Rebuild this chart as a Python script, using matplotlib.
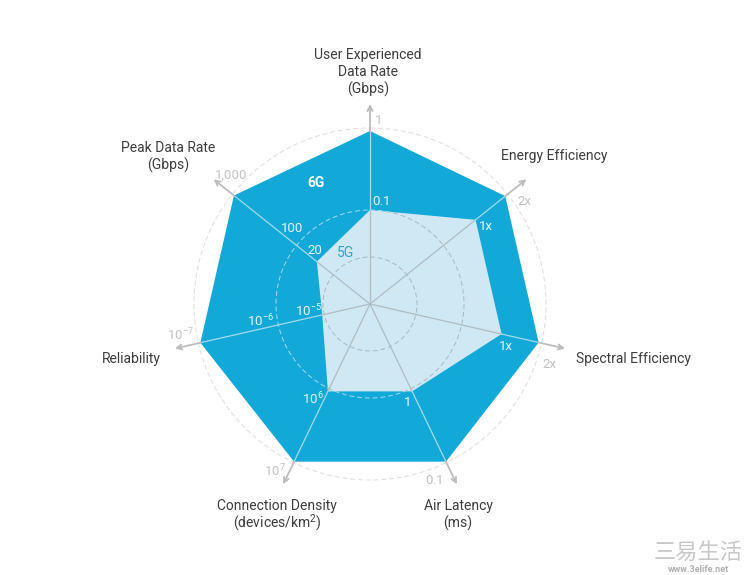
import numpy as np
import matplotlib
matplotlib.use("Agg")
import matplotlib.pyplot as plt

plt.rcParams['font.family'] = ['Roboto', 'Noto Sans CJK SC', 'DejaVu Sans']
plt.rcParams['mathtext.fontset'] = 'custom'
plt.rcParams['mathtext.rm'] = 'Roboto'
plt.rcParams['mathtext.default'] = 'rm'

W, H = 750, 575
cx, cy = 370, 304
rmax = 215

# radii (pixels from centre), clockwise from the top
axes_names = ["User Experienced", "Energy Efficiency", "Spectral Efficiency", "Air Latency",
              "Connection Density", "Reliability", "Peak Data Rate"]
r_6g = np.array([173, 173, 173, 175, 175, 174, 174])
r_5g = np.array([94, 135, 135, 97, 97, 49, 68])
arrow_r = 200

blue = "#12a8d8"
pale = "#cfe8f3"
grey = "#bcbcbc"
label_grey = "#c2c2c2"
dark = "#3c3c3c"
white = "#e6f5fb"
dash = (0, (5, 3))

fig = plt.figure(figsize=(W / 100, H / 100), dpi=100)
ax = fig.add_axes([(cx - rmax) / W, (H - cy - rmax) / H, 2 * rmax / W, 2 * rmax / H], projection="polar")
ax.set_theta_zero_location("N")
ax.set_theta_direction(-1)
ax.set_ylim(0, rmax)
ax.axis("off")

theta = np.arange(7) * 2 * np.pi / 7
circ = np.linspace(0, 2 * np.pi, 361)


def closed(a):
    return np.append(a, a[0])


# outer dashed ring sits under the 6G shape
ax.plot(circ, np.full(361, 176), color="#dedede", lw=0.7, ls=dash, zorder=1)

ax.fill(closed(theta), closed(r_6g), color=blue, lw=0, zorder=2)
ax.plot(circ, np.full(361, 94), color="#a5dcee", lw=0.7, ls=dash, zorder=3)

shape_5g = ax.fill(closed(theta), closed(r_5g), color=pale, lw=0, zorder=4)[0]
for r in (47, 94):
    ring, = ax.plot(circ, np.full(361, r), color="#a9b8bf", lw=0.7, ls=dash, zorder=5)
    ring.set_clip_path(shape_5g)

for t, r5, r6 in zip(theta, r_5g, r_6g):
    ax.plot([t, t], [0, r5], color="#b0bcc2", lw=0.9, zorder=6)
    ax.plot([t, t], [r5, r6], color="#a5dcee", lw=0.9, zorder=6)
    ax.annotate("", xy=(t, arrow_r), xytext=(t, r6),
                arrowprops=dict(arrowstyle="->", color=grey, lw=1.3, mutation_scale=9,
                                shrinkA=0, shrinkB=0), zorder=6)


def label(x, y, s, color=dark, size=10, **kw):
    fig.text(x / W, 1 - y / H, s, color=color, fontsize=size, ha="center", va="center", **kw)


# axis titles
for x, y, s in [
    (368, 55, "User Experienced"), (368, 72, "Data Rate"), (368, 89, "(Gbps)"),
    (168, 148, "Peak Data Rate"), (168, 165, "(Gbps)"),
    (554, 156, "Energy Efficiency"),
    (634, 359, "Spectral Efficiency"),
    (458, 506, "Air Latency"), (458, 523, "(ms)"),
    (277, 506, "Connection Density"), (277, 523, "(devices/km$^{2}$)"),
    (131, 359, "Reliability"),
]:
    label(x, y, s)

# 6G end values
for x, y, s in [
    (379, 120, "1"), (231, 175, "1,000"), (524, 201, "2x"), (549, 364, "2x"),
    (434, 481, "0.1"), (275, 471, "10$^{7}$"), (181, 335, "10$^{-7}$"),
]:
    label(x, y, s, color=label_grey, size=9.5)

# 5G values and ring values
for x, y, s in [
    (381, 202, "0.1"), (292, 228, "100"), (315, 251, "20"), (486, 227, "1x"), (506, 346, "1x"),
    (408, 403, "1"), (313, 399, "10$^{6}$"), (261, 321, "10$^{-6}$"), (309, 311, "10$^{-5}$"),
]:
    label(x, y, s, color=white, size=9.5)

label(346, 253, "5G", color="#2ba5d3", size=10)
label(316, 183, "6G", color="white", size=10, fontweight="bold")

# watermark
label(698, 553, "三易生活", color="#c8c8c8", size=16)
label(698, 570, "www.3elife.net", color="#b0b0b0", size=6.5, fontweight="bold")

fig.savefig("out.png", dpi=100)
